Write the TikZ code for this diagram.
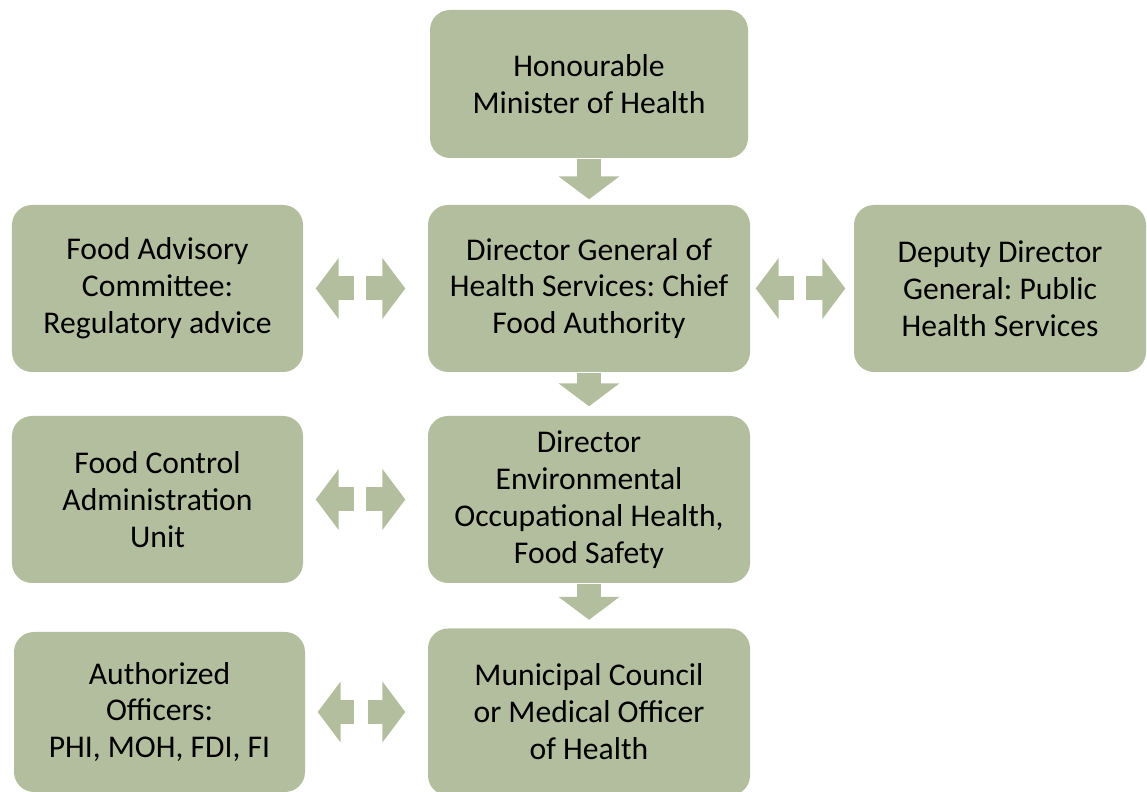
\documentclass[tikz,border=0pt]{standalone}
\usepackage{fontspec}
\setmainfont{Carlito}
\usepackage{tikz}
\usetikzlibrary{arrows.meta, positioning}
\definecolor{sage}{HTML}{B3BE9E}
\frenchspacing

\tikzset{
  box/.style={fill=sage, rounded corners=0.2cm, align=center, inner sep=1pt,
    font=\fontsize{9}{10.5}\selectfont, text=black},
  wide/.style={box, minimum width=3.22cm, minimum height=1.67cm},
  side/.style={box, minimum width=2.91cm, minimum height=1.67cm},
  blockarrow/.style={draw=sage, line width=0.24cm,
    -{Triangle[length=0.23cm, width=0.6cm]}}
}

\begin{document}
\begin{tikzpicture}
  \useasboundingbox (0,0) rectangle (11.47,7.92);
  \clip (0,0) rectangle (11.47,7.92);

  % Centre column
  \node[box, minimum width=3.18cm, minimum height=1.48cm] (minister) at (5.89,7.08) {Honourable\\Minister of Health};
  \node[wide] (dg) at (5.89,5.035) {Director General of\\Health Services: Chief\\Food Authority};
  \node[wide] (env) at (5.89,2.925) {Director\\Environmental\\Occupational Health,\\Food Safety};
  \node[wide] (council) at (5.89,0.80) {Municipal Council\\or Medical Officer\\of Health};

  % Side boxes
  \node[side] (advisory) at (1.575,5.035) {Food Advisory\\Committee:\\Regulatory advice};
  \node[side, minimum width=2.92cm] (deputy) at (10.00,5.035) {Deputy Director\\General: Public\\Health Services};
  \node[side] (admin) at (1.575,2.925) {Food Control\\Administration\\Unit};
  \node[side, minimum height=1.60cm] (officers) at (1.595,0.80) {Authorized\\Officers:\\PHI, MOH, FDI, FI};

  % Downward chain
  \draw[blockarrow, shorten >=0.05cm] (minister.south) -- (dg.north);
  \draw[blockarrow, shorten >=0.09cm] (dg.south) -- (env.north);
  \draw[blockarrow, shorten >=0.08cm] (env.south) -- (council.north);

  % Two-way links to the side boxes
  \foreach \a/\b in {advisory/dg, admin/env, officers/council} {
    \draw[blockarrow, shorten >=0.12cm] ([xshift=-0.73cm]\b.west) -- (\a.east);
    \draw[blockarrow, shorten >=0.22cm] ([xshift=0.62cm]\a.east) -- (\b.west);
  }
  \draw[blockarrow, shorten >=0.05cm] ([xshift=-0.59cm]deputy.west) -- (dg.east);
  \draw[blockarrow, shorten >=0.08cm] ([xshift=0.55cm]dg.east) -- (deputy.west);
\end{tikzpicture}
\end{document}
